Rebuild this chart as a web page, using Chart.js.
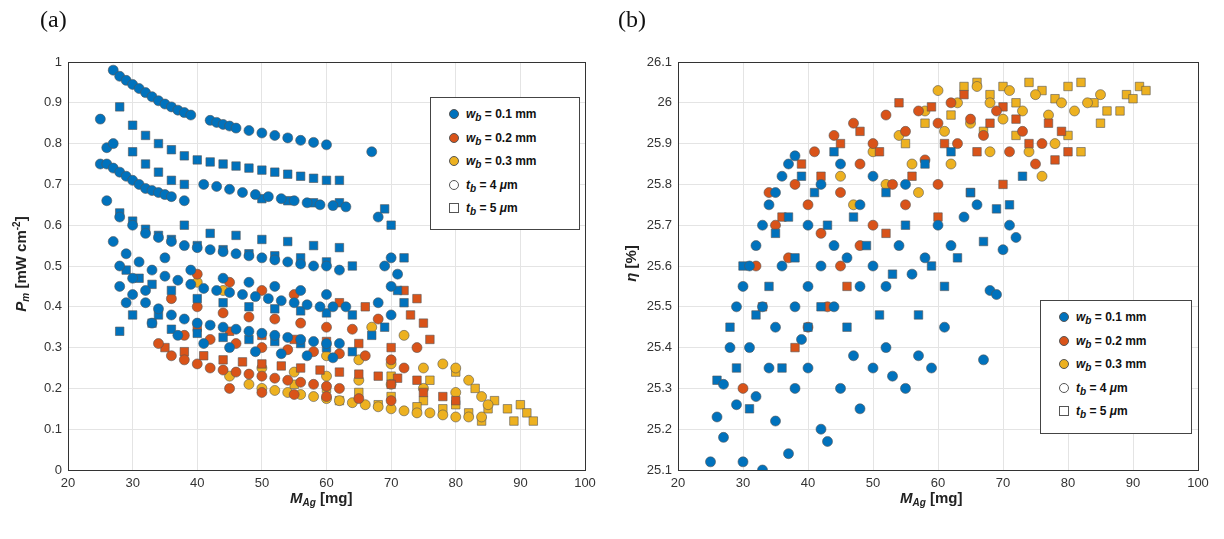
<!DOCTYPE html>
<html><head><meta charset="utf-8">
<script src="https://cdn.jsdelivr.net/npm/chart.js@4/dist/chart.umd.min.js"></script>
<style>
body{margin:0;background:#fff;width:1224px;height:539px;position:relative;overflow:hidden;font-family:"Liberation Sans",Arial,sans-serif}
.cv{position:absolute;top:0}
.lab{position:absolute;font-family:"Liberation Serif",serif;font-size:24px;color:#111}
.ax{position:absolute;font-weight:bold;font-size:15px;color:#222;white-space:nowrap}
.leg{position:absolute;border:1px solid #444;background:#fff;font-weight:bold;font-size:12px;color:#111}
.row{position:absolute;left:0;height:16px;line-height:16px;white-space:nowrap}
.mk{position:absolute;left:18px;top:3px;width:10px;height:10px;border-radius:50%;border:0.6px solid #555;box-sizing:border-box}
.sq{border-radius:0;border:1px solid #555}
.tx{position:absolute;left:35px;top:0}
sub{font-size:10px;vertical-align:-3px;line-height:0}
</style></head><body>
<div class="cv" style="left:0;width:612px;height:539px"><canvas id="ca"></canvas></div>
<div class="cv" style="left:612px;width:612px;height:539px"><canvas id="cb"></canvas></div>
<div class="lab" style="left:40px;top:6px">(a)</div>
<div class="lab" style="left:618px;top:6px">(b)</div>
<div class="ax" style="left:290px;top:489px"><i>M</i><sub><i>Ag</i></sub> [mg]</div>
<div class="ax" style="left:900px;top:489px"><i>M</i><sub><i>Ag</i></sub> [mg]</div>
<div class="ax" style="left:-40px;top:255px;transform:rotate(-90deg);width:120px;text-align:center"><i>P</i><sub><i>m</i></sub> [mW cm<sup style="font-size:10px">-2</sup>]</div>
<div class="ax" style="left:600px;top:255px;transform:rotate(-90deg);width:60px;text-align:center"><i>η</i> [%]</div>
<div id="la" class="leg" style="left:430px;top:97px;width:148px;height:131px"></div>
<div id="lb" class="leg" style="left:1040px;top:300px;width:150px;height:132px"></div>
<script>
const COLORS = {blue:'#0072BD', orange:'#D95319', yellow:'#EDB120'};
const legendLabels = ['0.1 mm','0.2 mm','0.3 mm','4 μm','5 μm'];
const xTicks = [20,30,40,50,60,70,80,90,100];
const yTicksA = [0,0.1,0.2,0.3,0.4,0.5,0.6,0.7,0.8,0.9,1];
const yTicksB = [25.1,25.2,25.3,25.4,25.5,25.6,25.7,25.8,25.9,26,26.1];

// Panel (a): [M_Ag, P_m]
const aBlueCirc = [[27,.98],[28,.965],[29,.955],[30,.945],[31,.935],[32,.925],[33,.915],[34,.905],[35,.897],[36,.89],[37,.882],[38,.876],[39,.87],[42,.857],[43,.852],[44,.847],[45,.843],[46,.838],[48,.832],[50,.826],[52,.82],[54,.814],[56,.808],[58,.803],[60,.797],[67,.78],
[25,.86],[25,.75],[26,.75],[27,.74],[28,.73],[29,.72],[30,.71],[31,.70],[32,.69],[33,.685],[34,.68],[35,.675],[36,.67],[38,.66],[41,.70],[43,.695],[45,.688],[47,.68],[49,.675],[51,.67],[53,.665],[55,.66],[57,.655],[59,.65],[61,.648],[63,.645],
[26,.66],[28,.62],[30,.60],[32,.58],[34,.57],[36,.56],[38,.55],[40,.545],[42,.54],[44,.535],[46,.53],[48,.525],[50,.52],[52,.515],[54,.51],[56,.505],[58,.50],[60,.50],[62,.49],
[27,.56],[29,.53],[31,.51],[33,.49],[35,.475],[37,.465],[39,.455],[41,.445],[43,.44],[45,.435],[47,.43],[49,.425],[51,.42],[53,.415],[55,.41],[57,.405],[59,.40],[61,.40],[63,.40],
[28,.45],[30,.43],[32,.41],[34,.395],[36,.38],[38,.37],[40,.36],[42,.355],[44,.35],[46,.345],[48,.34],[50,.335],[52,.33],[54,.325],[56,.32],[58,.315],[60,.31],[62,.31],
[29,.41],[33,.36],[37,.33],[41,.31],[45,.30],[49,.29],[53,.285],[57,.28],[61,.275],
[68,.62],[69,.50],[70,.52],[70,.45],[71,.48],[68,.41],[70,.38],[26,.79],[27,.80],[28,.50],[30,.47],[32,.44],[35,.52],[39,.49],[44,.47],[48,.46],[52,.45],[56,.44],[60,.43]];
const aBlueSq = [[28,.89],[30,.845],[32,.82],[34,.80],[36,.785],[38,.77],[40,.76],[42,.755],[44,.75],[46,.745],[48,.74],[50,.735],[52,.73],[54,.725],[56,.72],[58,.715],[60,.71],[62,.71],
[30,.78],[32,.75],[34,.73],[36,.71],[38,.70],[50,.665],[54,.66],[58,.655],[62,.655],
[28,.63],[30,.61],[32,.59],[34,.575],[36,.565],[40,.55],[44,.54],[48,.53],[52,.525],[56,.52],[60,.51],[64,.50],
[29,.49],[31,.47],[33,.455],[36,.44],[40,.42],[44,.41],[48,.40],[52,.395],[56,.39],[60,.385],[64,.38],
[30,.38],[33,.36],[36,.345],[40,.335],[44,.325],[48,.32],[52,.315],[56,.31],[60,.30],[64,.29],[67,.33],
[28,.34],[34,.38],[69,.64],[70,.60],[72,.52],[71,.44],[72,.41],[69,.35],[38,.60],[42,.58],[46,.575],[50,.565],[54,.56],[58,.55],[62,.545]];
const aOrangeCirc = [[34,.31],[36,.28],[38,.27],[40,.26],[42,.25],[44,.245],[46,.24],[48,.235],[50,.23],[52,.225],[54,.22],[56,.215],[58,.21],[60,.205],[62,.20],
[36,.42],[40,.40],[44,.385],[48,.375],[52,.37],[56,.36],[60,.35],[64,.345],
[38,.33],[42,.32],[46,.31],[50,.30],[54,.295],[58,.29],[62,.285],[66,.28],[70,.27],
[45,.20],[50,.19],[55,.185],[60,.18],[65,.175],[70,.17],[72,.25],[74,.30],[68,.37],[40,.48],[45,.46],[50,.44],[55,.43]];
const aOrangeSq = [[35,.30],[38,.29],[41,.28],[44,.27],[47,.265],[50,.26],[53,.255],[56,.25],[59,.245],[62,.24],[65,.235],[68,.23],[71,.225],[74,.22],
[40,.35],[45,.34],[50,.33],[55,.32],[60,.315],[65,.31],[70,.30],[73,.38],[75,.36],[76,.32],[72,.44],[74,.42],[70,.21],[75,.19],[78,.18],[80,.17],[66,.40],[62,.41]];
const aYellowCirc = [[45,.23],[48,.21],[50,.20],[52,.195],[54,.19],[56,.185],[58,.18],[60,.175],[62,.17],[64,.165],[66,.16],[68,.155],[70,.15],[72,.145],[74,.14],[76,.14],[78,.135],[80,.13],[82,.13],[84,.13],
[50,.25],[55,.24],[60,.23],[65,.22],[70,.21],[75,.20],[80,.19],[84,.18],[60,.28],[65,.27],[70,.26],[75,.25],[80,.25],[67,.35],[72,.33],[78,.26],[82,.22],[85,.16],[40,.46],[44,.44]];
const aYellowSq = [[55,.21],[60,.20],[65,.19],[70,.18],[75,.17],[80,.16],[85,.15],[88,.15],[89,.12],[90,.16],[91,.14],[92,.12],[62,.17],[68,.16],[74,.155],[78,.15],[82,.14],[84,.12],[80,.24],[83,.20],[70,.23],[76,.22],[86,.17]];

// Panel (b): [M_Ag, eta]
const bBlueCirc = [[25,25.12],[26,25.23],[27,25.31],[28,25.40],[29,25.50],[30,25.55],[31,25.60],[32,25.65],[33,25.70],[34,25.75],[35,25.78],[36,25.82],[37,25.85],[38,25.87],[30,25.12],[32,25.28],[33,25.10],[35,25.22],[37,25.14],[38,25.30],[40,25.35],[42,25.20],[43,25.17],[45,25.30],[47,25.38],[48,25.25],[50,25.35],[52,25.40],[53,25.33],[55,25.30],[57,25.38],[59,25.35],[61,25.45],[67,25.37],[68,25.54],[69,25.53],[70,25.64],[71,25.70],[72,25.67],
[35,25.45],[38,25.50],[40,25.55],[42,25.60],[44,25.50],[46,25.62],[48,25.55],[50,25.60],[52,25.55],[54,25.65],[56,25.58],[58,25.62],[60,25.70],[62,25.65],[64,25.72],[66,25.75],[42,25.80],[45,25.85],[48,25.75],[50,25.82],[55,25.80],[36,25.60],[33,25.50],[31,25.40],[40,25.70],[44,25.65],[27,25.18],[29,25.26],[34,25.35],[39,25.42]];
const bBlueSq = [[26,25.32],[28,25.45],[29,25.35],[30,25.60],[31,25.25],[32,25.48],[34,25.55],[35,25.68],[36,25.35],[37,25.72],[38,25.62],[39,25.82],[40,25.45],[41,25.78],[42,25.50],[43,25.70],[44,25.88],[46,25.45],[47,25.72],[49,25.65],[51,25.48],[53,25.58],[55,25.70],[57,25.48],[59,25.60],[61,25.55],[63,25.62],[65,25.78],[67,25.66],[69,25.74],[71,25.75],[73,25.82],[58,25.85],[62,25.88],[52,25.78]];
const bOrangeCirc = [[30,25.30],[32,25.60],[34,25.78],[35,25.70],[37,25.62],[38,25.80],[40,25.75],[41,25.88],[42,25.68],[44,25.92],[45,25.78],[47,25.95],[48,25.85],[50,25.90],[52,25.97],[53,25.80],[55,25.93],[57,25.98],[58,25.86],[60,25.95],[62,26.0],[63,25.90],[65,25.96],[67,25.92],[69,25.98],[71,25.88],[73,25.93],[75,25.85],[76,25.90],[45,25.60],[50,25.70],[55,25.75],[60,25.80],[43,25.50],[40,25.45],[48,25.65]];
const bOrangeSq = [[33,25.50],[36,25.72],[39,25.85],[42,25.82],[45,25.90],[48,25.93],[51,25.88],[54,26.0],[56,25.82],[59,25.99],[61,25.90],[64,26.02],[66,25.88],[68,25.95],[70,25.99],[72,25.96],[74,25.90],[77,25.95],[79,25.93],[80,25.88],[78,25.86],[70,25.80],[65,25.78],[60,25.72],[52,25.68],[46,25.55],[38,25.40]];
const bYellowCirc = [[45,25.82],[47,25.75],[50,25.88],[52,25.80],[54,25.92],[56,25.85],[58,25.98],[60,26.03],[61,25.93],[63,26.0],[65,25.95],[66,26.04],[68,26.0],[70,25.96],[71,26.03],[73,25.98],[75,26.02],[77,25.97],[79,26.0],[81,25.98],[83,26.0],[85,26.02],[78,25.90],[74,25.88],[68,25.88],[62,25.85],[57,25.78],[76,25.82]];
const bYellowSq = [[55,25.90],[58,25.95],[62,25.97],[64,26.04],[66,26.05],[68,26.02],[70,26.04],[72,26.0],[74,26.05],[76,26.03],[78,26.01],[80,26.04],[82,26.05],[84,26.0],[86,25.98],[88,25.98],[89,26.02],[90,26.01],[91,26.04],[92,26.03],[80,25.92],[82,25.88],[85,25.95],[72,25.92],[67,25.93]];

function ds(pts,color,style){
  return {data:pts.map(p=>({x:p[0],y:p[1]})),backgroundColor:color,borderColor:'#555',borderWidth:0.6,
    pointStyle:style,pointRadius:style==='rect'?6:5,pointHoverRadius:5};
}
const boxPlugin={id:'box',afterDraw(c){const a=c.chartArea,x=c.ctx;x.save();x.strokeStyle='#333';x.lineWidth=1;x.strokeRect(a.left+0.5,a.top+0.5,a.right-a.left,a.bottom-a.top);x.restore();}};
function make(id,sets,yt,pad,yw){
  return new Chart(document.getElementById(id),{type:'scatter',data:{datasets:sets},plugins:[boxPlugin],
   options:{responsive:true,maintainAspectRatio:false,animation:false,
    layout:{padding:pad},
    plugins:{legend:{display:false},tooltip:{enabled:false}},
    scales:{
     x:{type:'linear',min:20,max:100,afterBuildTicks:s=>{s.ticks=xTicks.map(v=>({value:v}))},
        afterFit:s=>{s.height=25},
        grid:{color:'#e4e4e4',tickLength:0},border:{color:'#333'},
        ticks:{color:'#333',font:{size:13,family:'Liberation Sans'},padding:6}},
     y:{type:'linear',min:yt[0],max:yt[yt.length-1],afterBuildTicks:s=>{s.ticks=yt.map(v=>({value:v}))},
        afterFit:s=>{s.width=yw},
        grid:{color:'#e4e4e4',tickLength:0},border:{color:'#333'},
        ticks:{color:'#333',font:{size:13,family:'Liberation Sans'},padding:6,callback:v=>String(Math.round(v*10)/10)}}
    }}});
}
make('ca',[ds(aBlueCirc,COLORS.blue,'circle'),ds(aBlueSq,COLORS.blue,'rect'),ds(aOrangeCirc,COLORS.orange,'circle'),ds(aOrangeSq,COLORS.orange,'rect'),ds(aYellowCirc,COLORS.yellow,'circle'),ds(aYellowSq,COLORS.yellow,'rect')],yTicksA,{left:28,right:27,top:62,bottom:44},40);
make('cb',[ds(bBlueCirc,COLORS.blue,'circle'),ds(bBlueSq,COLORS.blue,'rect'),ds(bOrangeCirc,COLORS.orange,'circle'),ds(bOrangeSq,COLORS.orange,'rect'),ds(bYellowCirc,COLORS.yellow,'circle'),ds(bYellowSq,COLORS.yellow,'rect')],yTicksB,{left:16,right:26,top:62,bottom:44},50);

function legend(id){
  const el=document.getElementById(id);
  const cols=[COLORS.blue,COLORS.orange,COLORS.yellow,'#fff','#fff'];
  let h='';
  legendLabels.forEach((t,i)=>{
    const sym=i<3?'w':'t';
    h+=`<div class="row" style="top:${8+i*23.5}px;width:100%"><span class="mk${i===4?' sq':''}" style="background:${cols[i]}"></span><span class="tx"><i>${sym}</i><sub><i>b</i></sub> = ${t.replace('μm','<i>μ</i>m')}</span></div>`;
  });
  el.innerHTML=h;
}
legend('la');legend('lb');
</script></body></html>
